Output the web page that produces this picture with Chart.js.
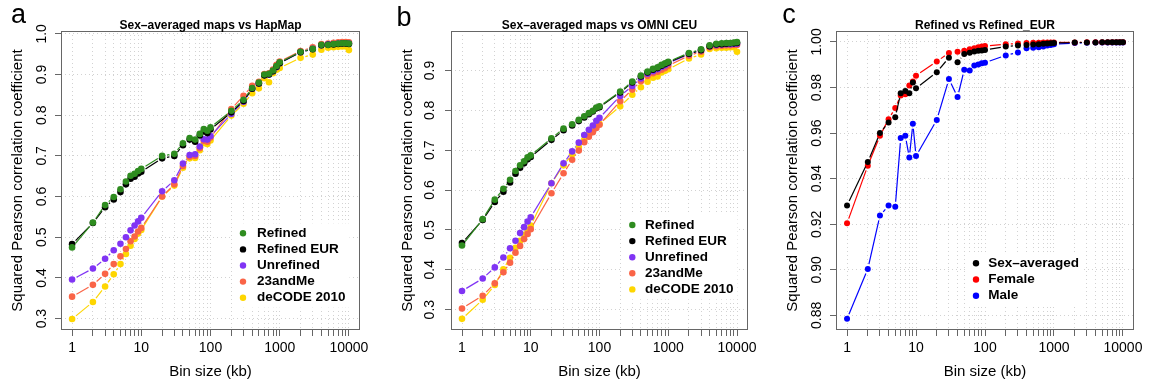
<!DOCTYPE html>
<html>
<head>
<meta charset="utf-8">
<script src="https://cdn.jsdelivr.net/npm/chart.js@4/dist/chart.umd.min.js"></script>
<style>
  html, body { margin: 0; padding: 0; background: #fff; overflow: hidden; }
  #wrap { position: relative; width: 1149px; height: 386px; }
  .panel { position: absolute; top: 0; }
</style>
</head>
<body>
<div id="wrap">
  <canvas id="panelA" class="panel" style="left:0px" width="383" height="386"></canvas>
  <canvas id="panelB" class="panel" style="left:383px" width="383" height="386"></canvas>
  <canvas id="panelC" class="panel" style="left:766px" width="383" height="386"></canvas>
</div>
<script>
// Bin sizes (kb) shared by every series
const binSizes = [1, 2, 3, 4, 5, 6, 7, 8, 9, 10,
  20, 30, 40, 50, 60, 70, 80, 90, 100,
  200, 300, 400, 500, 600, 700, 800, 900, 1000,
  2000, 3000, 4000, 5000, 6000, 7000, 8000, 9000, 10000];

// x axis: tick marks at every 1..9 x 10^k, labels at the decades
const xTickValues = [1, 2, 3, 4, 5, 6, 7, 8, 9, 10, 20, 30, 40, 50, 60, 70, 80, 90,
  100, 200, 300, 400, 500, 600, 700, 800, 900, 1000, 2000, 3000, 4000, 5000, 6000,
  7000, 8000, 9000, 10000];
const xTickLabels = ['1', '10', '100', '1000', '10000'];

// y axis ticks per panel
const yTicksA = [0.3, 0.4, 0.5, 0.6, 0.7, 0.8, 0.9, 1.0];
const yTickLabelsA = ['0.3', '0.4', '0.5', '0.6', '0.7', '0.8', '0.9', '1.0'];
const yTicksB = [0.3, 0.4, 0.5, 0.6, 0.7, 0.8, 0.9];
const yTickLabelsB = ['0.3', '0.4', '0.5', '0.6', '0.7', '0.8', '0.9'];
const yTicksC = [0.88, 0.90, 0.92, 0.94, 0.96, 0.98, 1.00];
const yTickLabelsC = ['0.88', '0.90', '0.92', '0.94', '0.96', '0.98', '1.00'];

// Panel a: sex-averaged maps vs HapMap
const refinedA = [0.475, 0.536, 0.579, 0.599, 0.618, 0.637, 0.651, 0.656, 0.663, 0.668,
  0.700, 0.705, 0.731, 0.744, 0.740, 0.754, 0.766, 0.762, 0.770,
  0.811, 0.838, 0.867, 0.880, 0.900, 0.902, 0.910, 0.921, 0.930,
  0.956, 0.963, 0.973, 0.973, 0.975, 0.976, 0.977, 0.977, 0.976];
const refinedEurA = [0.483, 0.535, 0.574, 0.593, 0.611, 0.630, 0.644, 0.649, 0.657, 0.661,
  0.694, 0.700, 0.726, 0.740, 0.735, 0.750, 0.760, 0.756, 0.765,
  0.807, 0.835, 0.865, 0.878, 0.898, 0.900, 0.908, 0.919, 0.928,
  0.955, 0.962, 0.972, 0.973, 0.974, 0.975, 0.976, 0.976, 0.975];
const unrefinedA = [0.396, 0.423, 0.447, 0.468, 0.484, 0.500, 0.517, 0.529, 0.539, 0.548,
  0.613, 0.640, 0.681, 0.702, 0.704, 0.723, 0.741, 0.740, 0.749,
  0.803, 0.833, 0.865, 0.878, 0.898, 0.900, 0.908, 0.918, 0.928,
  0.955, 0.963, 0.972, 0.974, 0.975, 0.976, 0.977, 0.977, 0.976];
const andMeA = [0.354, 0.383, 0.410, 0.434, 0.453, 0.471, 0.490, 0.502, 0.514, 0.523,
  0.600, 0.630, 0.675, 0.698, 0.700, 0.719, 0.737, 0.735, 0.745,
  0.815, 0.848, 0.872, 0.882, 0.901, 0.903, 0.912, 0.924, 0.932,
  0.958, 0.967, 0.975, 0.976, 0.978, 0.979, 0.980, 0.980, 0.979];
const decodeA = [0.299, 0.341, 0.379, 0.409, 0.434, 0.459, 0.479, 0.496, 0.509, 0.518,
  0.600, 0.627, 0.671, 0.694, 0.695, 0.714, 0.731, 0.729, 0.738,
  0.799, 0.828, 0.854, 0.866, 0.891, 0.881, 0.903, 0.912, 0.916,
  0.941, 0.949, 0.961, 0.966, 0.967, 0.968, 0.969, 0.969, 0.960];

// Panel b: sex-averaged maps vs OMNI CEU
const refinedB = [0.461, 0.527, 0.576, 0.603, 0.626, 0.648, 0.662, 0.672, 0.682, 0.687,
  0.730, 0.754, 0.765, 0.776, 0.785, 0.793, 0.799, 0.807, 0.810,
  0.847, 0.872, 0.887, 0.897, 0.904, 0.908, 0.914, 0.918, 0.922,
  0.944, 0.953, 0.963, 0.967, 0.968, 0.969, 0.969, 0.970, 0.971];
const refinedEurB = [0.467, 0.525, 0.570, 0.596, 0.619, 0.641, 0.656, 0.667, 0.677, 0.683,
  0.726, 0.750, 0.762, 0.773, 0.782, 0.790, 0.797, 0.805, 0.808,
  0.845, 0.870, 0.885, 0.895, 0.902, 0.906, 0.912, 0.916, 0.920,
  0.942, 0.951, 0.961, 0.965, 0.966, 0.967, 0.968, 0.968, 0.969];
const unrefinedB = [0.347, 0.378, 0.406, 0.431, 0.454, 0.473, 0.492, 0.507, 0.521, 0.532,
  0.617, 0.667, 0.697, 0.719, 0.738, 0.751, 0.762, 0.774, 0.781,
  0.836, 0.861, 0.880, 0.892, 0.898, 0.903, 0.909, 0.913, 0.918,
  0.941, 0.951, 0.961, 0.964, 0.965, 0.966, 0.966, 0.967, 0.967];
const andMeB = [0.303, 0.335, 0.366, 0.394, 0.418, 0.443, 0.460, 0.477, 0.490, 0.502,
  0.592, 0.642, 0.676, 0.699, 0.720, 0.734, 0.745, 0.756, 0.764,
  0.823, 0.852, 0.873, 0.886, 0.893, 0.897, 0.902, 0.906, 0.912,
  0.937, 0.947, 0.958, 0.961, 0.962, 0.963, 0.963, 0.964, 0.964];
const decodeB = [0.277, 0.325, 0.362, 0.401, 0.430, 0.455, 0.473, 0.488, 0.500, 0.511,
  0.617, 0.662, 0.690, 0.708, 0.726, 0.740, 0.750, 0.760, 0.766,
  0.810, 0.839, 0.858, 0.872, 0.882, 0.885, 0.895, 0.899, 0.903,
  0.930, 0.940, 0.954, 0.956, 0.957, 0.957, 0.958, 0.958, 0.947];

// Panel c: Refined vs Refined_EUR
const sexAveragedC = [0.9282, 0.9473, 0.9600, 0.9647, 0.9670, 0.9775, 0.9785, 0.9775, 0.9822, 0.9797,
  0.9867, 0.9931, 0.9911, 0.9947, 0.9953, 0.9958, 0.9961, 0.9962, 0.9965,
  0.9980, 0.9984, 0.9987, 0.9989, 0.9990, 0.9992, 0.9993, 0.9994, 0.9995,
  0.9997, 0.9998, 0.9998, 0.9999, 0.9999, 0.9999, 0.9999, 0.9999, 0.9999];
const femaleC = [0.9204, 0.9457, 0.9588, 0.9661, 0.9710, 0.9765, 0.9771, 0.9809, 0.9826, 0.9852,
  0.9914, 0.9952, 0.9957, 0.9961, 0.9968, 0.9972, 0.9977, 0.9980, 0.9982,
  0.9990, 0.9993, 0.9995, 0.9996, 0.9996, 0.9997, 0.9997, 0.9998, 0.9998,
  0.9998, 0.9999, 0.9999, 0.9999, 0.9999, 0.9999, 0.9999, 0.9999, 0.9999];
const maleC = [0.8785, 0.9004, 0.9238, 0.9282, 0.9277, 0.9578, 0.9588, 0.9493, 0.9641, 0.9499,
  0.9658, 0.9837, 0.9758, 0.9878, 0.9875, 0.9897, 0.9901, 0.9906, 0.9909,
  0.9941, 0.9954, 0.9972, 0.9974, 0.9977, 0.9980, 0.9984, 0.9987, 0.9990,
  0.9995, 0.9996, 0.9997, 0.9997, 0.9998, 0.9998, 0.9998, 0.9998, 0.9998];

const FONT = '"Liberation Sans", Arial, Helvetica, sans-serif';
const AXIS_COLOR = '#666666';
const GRID_COLOR = '#d2d2d2';
const GREEN = '#2e8c1f', BLACK = '#000000', PURPLE = '#8034f4', TOMATO = '#fa6447', GOLD = '#fed600';
const RED = '#ff0000', BLUE = '#0000ff';
const POINT_GAP = 5; // lines stop short of each point, like R's type = "b"

// Dash pattern that leaves a gap around both ends of each segment
function gapDash(c) {
  const a = c.p0, b = c.p1;
  const len = Math.hypot(b.x - a.x, b.y - a.y);
  const tag = c.p0DataIndex * 1e-3;
  if (len <= 2 * POINT_GAP) return [0, len + 50 + tag];
  return [0, POINT_GAP, len - 2 * POINT_GAP, POINT_GAP + 50 + tag];
}

function series(label, values, color, radius) {
  return {
    label,
    data: binSizes.map((x, i) => ({ x, y: values[i] })),
    borderColor: color,
    backgroundColor: color,
    pointBackgroundColor: color,
    pointBorderWidth: 0,
    pointRadius: radius,
    pointHoverRadius: radius,
    borderWidth: 1.2,
    fill: false,
    segment: { borderDash: gapDash }
  };
}

// Frame, title, rotated y tick labels, legend and panel letter
const decorPlugin = {
  id: 'decor',
  afterDraw(chart, args, o) {
    const ctx = chart.ctx, ca = chart.chartArea, ys = chart.scales.y;
    ctx.save();
    ctx.strokeStyle = AXIS_COLOR;
    ctx.lineWidth = 1;
    ctx.strokeRect(Math.round(ca.left) + 0.5, Math.round(ca.top) + 0.5,
      Math.round(ca.right - ca.left) - 1, Math.round(ca.bottom - ca.top) - 1);

    ctx.fillStyle = '#000';
    ctx.font = 'bold 12px ' + FONT;
    ctx.textAlign = 'center';
    ctx.textBaseline = 'alphabetic';
    ctx.fillText(o.title, (ca.left + ca.right) / 2, 28.5);

    ctx.font = '14px ' + FONT;
    ctx.textBaseline = 'middle';
    o.yTicks.forEach((v, i) => {
      const y = ys.getPixelForValue(v);
      ctx.save();
      ctx.translate(o.yLabelX, y);
      ctx.rotate(-Math.PI / 2);
      ctx.fillText(o.yLabels[i], 0, 0);
      ctx.restore();
    });

    const lg = o.legend;
    const sets = chart.data.datasets;
    ctx.font = 'bold 13.5px ' + FONT;
    const wMax = Math.max(...sets.map(d => ctx.measureText(d.label).width));
    ctx.fillStyle = '#fff';
    ctx.fillRect(lg.x - 10, lg.y - 10, (lg.textX - lg.x) + wMax + 14, lg.step * (sets.length - 1) + 20);
    ctx.textAlign = 'left';
    sets.forEach((d, i) => {
      const y = lg.y + i * lg.step;
      ctx.fillStyle = d.borderColor;
      ctx.beginPath();
      ctx.arc(lg.x, y, 3.2, 0, Math.PI * 2);
      ctx.fill();
      ctx.fillStyle = '#000';
      ctx.fillText(d.label, lg.textX, y);
    });

    ctx.font = '27px ' + FONT;
    ctx.textBaseline = 'alphabetic';
    ctx.fillText(o.letter, o.letterX, o.letterY);
    ctx.restore();
  }
};

const X_MIN = Math.pow(10, -0.16), X_MAX = Math.pow(10, 4.16);

function panelConfig(datasets, p) {
  const gridOpts = {
    color: GRID_COLOR, lineWidth: 1, drawTicks: true, tickLength: 6,
    tickColor: AXIS_COLOR, tickWidth: 1, tickBorderDash: []
  };
  return {
    type: 'line',
    data: { datasets },
    plugins: [decorPlugin],
    options: {
      responsive: false,
      animation: false,
      events: [],
      layout: { autoPadding: false, padding: { left: 0, right: p.padRight, top: 31, bottom: 0 } },
      plugins: {
        legend: { display: false },
        tooltip: { enabled: false },
        title: { display: false },
        decor: p.decor
      },
      scales: {
        x: {
          type: 'logarithmic',
          position: 'bottom',
          min: X_MIN,
          max: X_MAX,
          afterBuildTicks: s => { s.ticks = xTickValues.map(v => ({ value: v })); },
          afterFit: s => { s.height = 56; },
          ticks: {
            autoSkip: false, maxRotation: 0, minRotation: 0, padding: 4,
            color: '#000', font: { family: FONT, size: 14 },
            callback: v => xTickLabels.includes(String(v)) ? String(v) : ''
          },
          grid: gridOpts,
          border: { display: false, dash: [1, 3] },
          title: {
            display: true, text: 'Bin size (kb)', color: '#000',
            font: { family: FONT, size: 15 }, padding: { top: 0, bottom: 4.8 }
          }
        },
        y: {
          type: 'linear',
          position: 'left',
          min: p.yMin,
          max: p.yMax,
          afterBuildTicks: s => { s.ticks = p.decor.yTicks.map(v => ({ value: v })); },
          afterFit: s => { s.width = p.yWidth; },
          ticks: { display: false },
          grid: gridOpts,
          border: { display: false, dash: [1, 3] },
          title: {
            display: true, text: 'Squared Pearson correlation coefficient', color: '#000',
            font: { family: FONT, size: 15 }, padding: { top: p.yTitlePad, bottom: 0 }
          }
        }
      }
    }
  };
}

new Chart(document.getElementById('panelA'), panelConfig([
  series('Refined', refinedA, GREEN, 3.3),
  series('Refined EUR', refinedEurA, BLACK, 3.3),
  series('Unrefined', unrefinedA, PURPLE, 3.3),
  series('23andMe', andMeA, TOMATO, 3.3),
  series('deCODE 2010', decodeA, GOLD, 3.3)
], {
  padRight: 23, yWidth: 61, yTitlePad: 8.5, yMin: 0.272, yMax: 1.007,
  decor: {
    title: 'Sex\u2013averaged maps vs HapMap', yTicks: yTicksA, yLabels: yTickLabelsA, yLabelX: 42,
    legend: { x: 243, textX: 257, y: 233.3, step: 16.1 },
    letter: 'a', letterX: 11, letterY: 23
  }
}));

new Chart(document.getElementById('panelB'), panelConfig([
  series('Refined', refinedB, GREEN, 3.3),
  series('Refined EUR', refinedEurB, BLACK, 3.3),
  series('Unrefined', unrefinedB, PURPLE, 3.3),
  series('23andMe', andMeB, TOMATO, 3.3),
  series('deCODE 2010', decodeB, GOLD, 3.3)
], {
  padRight: 18, yWidth: 68, yTitlePad: 15.4, yMin: 0.249, yMax: 0.999,
  decor: {
    title: 'Sex\u2013averaged maps vs OMNI CEU', yTicks: yTicksB, yLabels: yTickLabelsB, yLabelX: 47.6,
    legend: { x: 249.3, textX: 262, y: 225, step: 16.1 },
    letter: 'b', letterX: 13.4, letterY: 26
  }
}));

new Chart(document.getElementById('panelC'), panelConfig([
  series('Sex\u2013averaged', sexAveragedC, BLACK, 3.0),
  series('Female', femaleC, RED, 3.0),
  series('Male', maleC, BLUE, 3.0)
], {
  padRight: 15, yWidth: 70, yTitlePad: 17.4, yMin: 0.8736, yMax: 1.0048,
  decor: {
    title: 'Refined vs Refined_EUR', yTicks: yTicksC, yLabels: yTickLabelsC, yLabelX: 50.7,
    legend: { x: 210, textX: 222.3, y: 263.3, step: 16.2 },
    letter: 'c', letterX: 16.3, letterY: 23.3
  }
}));
</script>
</body>
</html>
